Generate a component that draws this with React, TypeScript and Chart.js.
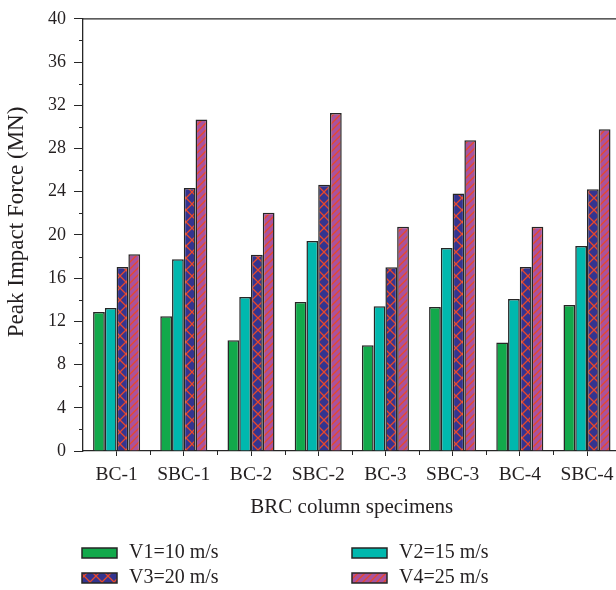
import React, { useEffect, useRef } from 'react';
import { Chart, registerables } from 'chart.js';

Chart.register(...registerables);

const categories = ['BC-1', 'SBC-1', 'BC-2', 'SBC-2', 'BC-3', 'SBC-3', 'BC-4', 'SBC-4'];
const seriesLabels = ['V1=10 m/s', 'V2=15 m/s', 'V3=20 m/s', 'V4=25 m/s'];
const v1 = [12.87, 12.47, 10.25, 13.8, 9.79, 13.33, 10.04, 13.52];
const v2 = [13.24, 17.74, 14.25, 19.43, 13.39, 18.78, 14.07, 18.97];
const v3 = [17.03, 24.33, 18.17, 24.64, 17.0, 23.83, 17.03, 24.23];
const v4 = [18.2, 30.67, 22.05, 31.29, 20.76, 28.76, 20.76, 29.77];
const yMin = 0;
const yMax = 40;
const yStep = 4;
const yMinorStep = 2;
const yTitle = 'Peak Impact Force (MN)';
const xTitle = 'BRC column specimens';

const FONT = '"Liberation Serif", "Times New Roman", serif';
const TEXT = '#231f20';
const EDGE = '#262626';

function crossPattern(): CanvasPattern | string {
  const c = document.createElement('canvas');
  c.width = 12;
  c.height = 12;
  const g = c.getContext('2d');
  if (!g) return '#34348f';
  g.fillStyle = '#34348f';
  g.fillRect(0, 0, 12, 12);
  g.strokeStyle = '#e8482a';
  g.lineWidth = 1.3;
  g.beginPath();
  g.moveTo(0, 0);
  g.lineTo(12, 12);
  g.moveTo(12, 0);
  g.lineTo(0, 12);
  g.stroke();
  const p = g.createPattern(c, 'repeat');
  return p || '#34348f';
}

function diagPattern(): CanvasPattern | string {
  const s = 7;
  const c = document.createElement('canvas');
  c.width = s;
  c.height = s;
  const g = c.getContext('2d');
  if (!g) return '#a9529e';
  g.fillStyle = '#a9529e';
  g.fillRect(0, 0, s, s);
  g.strokeStyle = '#e8482a';
  g.lineWidth = 1.3;
  g.beginPath();
  g.moveTo(-1, s + 1);
  g.lineTo(s + 1, -1);
  g.moveTo(-1, 1);
  g.lineTo(1, -1);
  g.moveTo(s - 1, s + 1);
  g.lineTo(s + 1, s - 1);
  g.stroke();
  const p = g.createPattern(c, 'repeat');
  return p || '#a9529e';
}

const decorPlugin = {
  id: 'decor',
  afterDraw(chart: any) {
    const { ctx, chartArea } = chart;
    const { left, right, top, bottom } = chartArea;
    ctx.save();
    ctx.strokeStyle = EDGE;
    ctx.lineWidth = 1.3;
    // top frame line
    ctx.beginPath();
    ctx.moveTo(left, top);
    ctx.lineTo(right + 10, top);
    ctx.stroke();
    // minor y ticks
    const ys = chart.scales.y;
    ctx.lineWidth = 1;
    for (let v = yMin + yMinorStep; v < yMax; v += yStep) {
      const py = Math.round(ys.getPixelForValue(v)) + 0.5;
      ctx.beginPath();
      ctx.moveTo(left - 4, py);
      ctx.lineTo(left, py);
      ctx.stroke();
    }
    // minor x ticks at category boundaries
    const xs = chart.scales.x;
    const n = categories.length;
    const half = (xs.getPixelForValue(1) - xs.getPixelForValue(0)) / 2;
    for (let i = 1; i <= n; i++) {
      const px = Math.round(xs.getPixelForValue(i - 1) + half) + 0.5;
      ctx.beginPath();
      ctx.moveTo(px, bottom);
      ctx.lineTo(px, bottom + 4);
      ctx.stroke();
    }
    // y axis title
    ctx.save();
    ctx.translate(17, (top + bottom) / 2 - 13);
    ctx.rotate(-Math.PI / 2);
    ctx.font = '23px ' + FONT;
    ctx.fillStyle = TEXT;
    ctx.textAlign = 'center';
    ctx.textBaseline = 'middle';
    ctx.fillText(yTitle, 0, 0);
    ctx.restore();
    // custom legend (2 columns)
    const cols = [82, 352];
    const textCols = [129, 399];
    const rows = [553, 578];
    ctx.font = '20px ' + FONT;
    ctx.textBaseline = 'middle';
    ctx.textAlign = 'left';
    chart.data.datasets.forEach((ds: any, i: number) => {
      const c = i % 2;
      const r = Math.floor(i / 2);
      const x = cols[c];
      const y = rows[r];
      ctx.fillStyle = ds.backgroundColor;
      ctx.fillRect(x, y - 5, 35, 10);
      ctx.lineWidth = 1.5;
      ctx.strokeStyle = EDGE;
      ctx.strokeRect(x, y - 5, 35, 10);
      ctx.fillStyle = TEXT;
      ctx.fillText(ds.label, textCols[c], y);
    });
    ctx.restore();
  },
};

export default function App() {
  const ref = useRef<HTMLCanvasElement | null>(null);

  useEffect(() => {
    if (!ref.current) return;
    const fills = ['#12a94b', '#00b8ae', crossPattern(), diagPattern()];
    const values = [v1, v2, v3, v4];
    const chart = new Chart(ref.current, {
      type: 'bar',
      data: {
        labels: categories,
        datasets: values.map((vals, i) => ({
          label: seriesLabels[i],
          data: vals,
          backgroundColor: fills[i] as any,
          borderColor: EDGE,
          borderWidth: 1.5,
          borderSkipped: 'start' as any,
          categoryPercentage: 0.7,
          barPercentage: 1.0,
        })),
      },
      options: {
        animation: false,
        responsive: false,
        devicePixelRatio: 1,
        layout: { padding: { left: 0, right: 9.4, top: 18, bottom: 69 } },
        plugins: {
          legend: { display: false },
          tooltip: { enabled: false },
        },
        scales: {
          x: {
            offset: true,
            grid: {
              offset: false,
              drawOnChartArea: false,
              drawTicks: true,
              tickLength: 5,
              color: EDGE,
              tickWidth: 1,
            },
            border: { display: true, color: EDGE, width: 1.3 },
            ticks: {
              color: TEXT,
              font: { family: FONT, size: 19.5 },
              padding: 7,
              maxRotation: 0,
              autoSkip: false,
            },
            title: {
              display: true,
              text: xTitle,
              color: TEXT,
              font: { family: FONT, size: 21 },
              padding: { top: 0, bottom: 1 },
            },
            afterFit: (s: any) => {
              s.height = 70;
            },
          },
          y: {
            min: yMin,
            max: yMax,
            grid: {
              drawOnChartArea: false,
              drawTicks: true,
              tickLength: 9,
              color: EDGE,
              tickWidth: 1,
            },
            border: { display: true, color: EDGE, width: 1.3 },
            ticks: {
              stepSize: yStep,
              color: TEXT,
              font: { family: FONT, size: 18 },
              padding: 8,
            },
            title: { display: false },
            afterFit: (s: any) => {
              s.width = 83;
            },
          },
        },
      },
      plugins: [decorPlugin],
    });
    return () => chart.destroy();
  }, []);

  return (
    <div
      style={{
        position: 'fixed',
        left: 0,
        top: 0,
        width: 616,
        height: 590,
        overflow: 'hidden',
        background: '#fff',
      }}
    >
      <canvas ref={ref} width={630} height={590} style={{ width: 630, height: 590, display: 'block' }} />
    </div>
  );
}
